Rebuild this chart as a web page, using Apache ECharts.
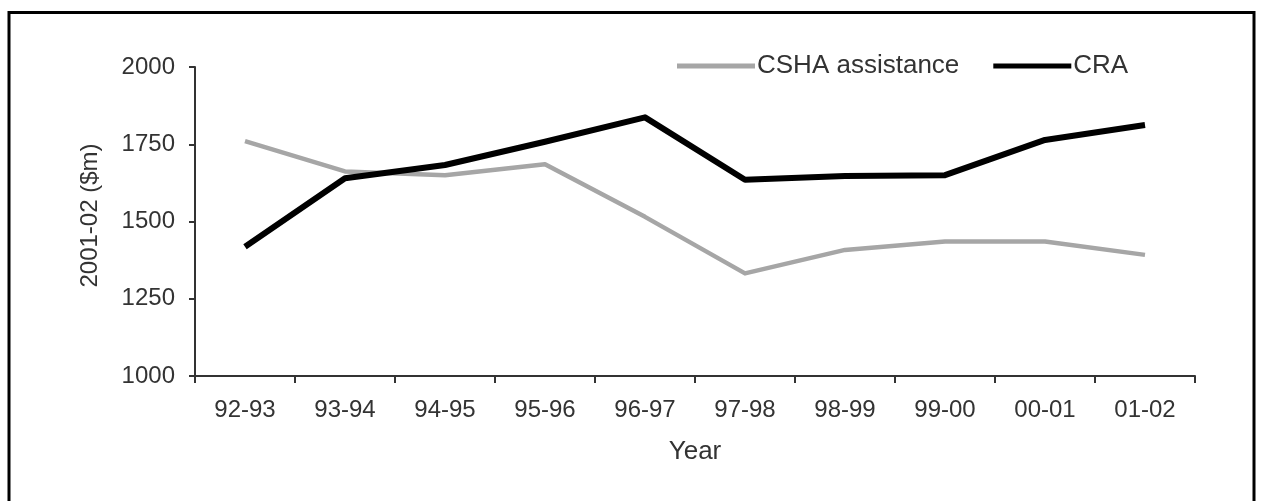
<!DOCTYPE html>
<html>
<head>
<meta charset="utf-8">
<script src="https://cdn.jsdelivr.net/npm/echarts@6/dist/echarts.min.js"></script>
<style>
html,body{margin:0;padding:0;background:#fff;}
#c{width:1263px;height:501px;}
</style>
</head>
<body>
<div id="c"></div>
<script>
const categories = ['92-93','93-94','94-95','95-96','96-97','97-98','98-99','99-00','00-01','01-02'];
const cshaAssistance = [1760, 1662, 1650, 1685, 1515, 1332, 1408, 1435, 1435, 1392];
const cra = [1418, 1640, 1683, 1758, 1837, 1635, 1647, 1650, 1764, 1812];
const yTicks = { min: 1000, max: 2000, interval: 250 };

const font = '"Liberation Sans", Arial, sans-serif';
const txt = '#333';

const chart = echarts.init(document.getElementById('c'), null, { renderer: 'canvas' });
chart.setOption({
  animation: false,
  backgroundColor: '#fff',
  grid: { left: 195, right: 68, top: 67, bottom: 125, containLabel: false },
  legend: {
    left: 677, top: 53, padding: 0,
    itemWidth: 78, itemHeight: 5, itemGap: 34,
    icon: 'rect',
    textStyle: { fontFamily: font, fontSize: 26, color: txt, padding: [0, 0, 0, -3] },
    data: ['CSHA assistance', 'CRA']
  },
  xAxis: {
    type: 'category',
    data: categories,
    boundaryGap: true,
    name: 'Year',
    nameLocation: 'middle',
    nameGap: 63,
    nameTextStyle: { fontFamily: font, fontSize: 26, color: txt },
    axisLine: { lineStyle: { color: '#333', width: 2 } },
    axisTick: { show: true, length: 7, alignWithLabel: false, lineStyle: { color: '#333', width: 2 } },
    axisLabel: { fontFamily: font, fontSize: 24, color: txt, margin: 22 },
    splitLine: { show: false }
  },
  yAxis: {
    type: 'value',
    min: yTicks.min, max: yTicks.max, interval: yTicks.interval,
    name: '2001-02 ($m)',
    nameLocation: 'middle',
    nameGap: 93,
    nameRotate: 90,
    nameTextStyle: { fontFamily: font, fontSize: 24, color: txt, padding: [0, 0, 0, 12] },
    axisLine: { show: true, lineStyle: { color: '#333', width: 2 } },
    axisTick: { show: true, length: 6, lineStyle: { color: '#333', width: 2 } },
    axisLabel: { fontFamily: font, fontSize: 24, color: txt, margin: 20, formatter: v => String(v) },
    splitLine: { show: false }
  },
  series: [
    {
      name: 'CSHA assistance',
      type: 'line',
      data: cshaAssistance,
      symbol: 'none',
      color: '#a6a6a6',
      lineStyle: { color: '#a6a6a6', width: 4.5, join: 'round' }
    },
    {
      name: 'CRA',
      type: 'line',
      data: cra,
      symbol: 'none',
      color: '#000',
      lineStyle: { color: '#000', width: 6, join: 'round' }
    }
  ],
  graphic: [
    {
      type: 'rect',
      shape: { x: 9, y: 12.5, width: 1245, height: 600 },
      style: { fill: 'none', stroke: '#000', lineWidth: 3 },
      silent: true
    }
  ]
});
</script>
</body>
</html>
